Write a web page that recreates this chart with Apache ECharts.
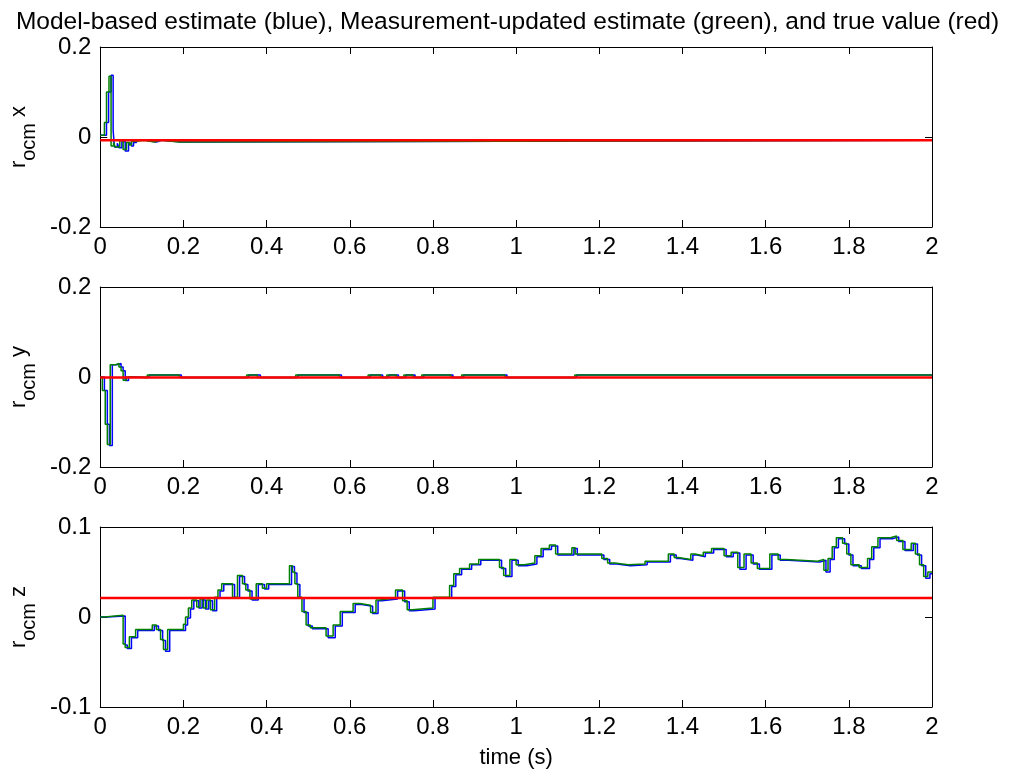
<!DOCTYPE html>
<html>
<head>
<meta charset="utf-8">
<script src="https://cdn.jsdelivr.net/npm/echarts@6/dist/echarts.min.js"></script>
<style>
  html, body { margin: 0; padding: 0; background: #fff; }
  #chart { width: 1015px; height: 780px; }
</style>
</head>
<body>
<div id="chart"></div>
<script>
// ---------- data ----------
const titleText = 'Model-based estimate (blue), Measurement-updated estimate (green), and true value (red)';
const xLabelText = 'time (s)';
const axisNames = ['x', 'y', 'z'];
const timeRange = [0, 2];
const timeTicks = [0, 0.2, 0.4, 0.6, 0.8, 1, 1.2, 1.4, 1.6, 1.8, 2];
const yRanges = [[-0.2, 0.2, 0.2], [-0.2, 0.2, 0.2], [-0.1, 0.1, 0.1]];

// true values (red)
const trueX = -0.007;
const trueY = -0.001;
const trueZ = 0.021;

// r_ocm x : [time, value] (held until next time)
const xGreen = [[0, 0.004], [0.01, 0.032], [0.015, 0.1], [0.021, 0.135], [0.026, -0.02], [0.032, -0.012], [0.036, -0.022],
  [0.047, -0.008], [0.055, -0.028], [0.063, -0.012], [0.07, -0.018], [0.075, -0.01], [0.082, -0.007], [0.105, -0.011],
  [0.13, -0.007], [0.145, -0.011], [0.19, -0.007], [2.0, -0.007]];
const xBlue = [[0, 0.004], [0.015, 0.032], [0.02, 0.1], [0.026, 0.137], [0.031, 0.015], [0.034, -0.022], [0.041, -0.014],
  [0.045, -0.024], [0.052, -0.01], [0.06, -0.031], [0.068, -0.014], [0.075, -0.02], [0.08, -0.012], [0.087, -0.007],
  [0.11, -0.011], [0.135, -0.007], [0.15, -0.011], [0.195, -0.007], [2.0, -0.007]];

// r_ocm y
const yGreen = [[0, 0.0], [0.005, -0.03], [0.012, -0.105], [0.017, -0.15], [0.024, 0.027], [0.035, 0.03], [0.045, 0.022],
  [0.05, 0.014], [0.055, -0.007], [0.063, 0.0], [0.07, -0.001], [0.113, 0.0045], [0.19, -0.001], [0.352, 0.0045],
  [0.378, -0.001], [0.47, 0.0045], [0.575, -0.001], [0.644, 0.0045], [0.674, -0.001], [0.689, 0.0045], [0.712, -0.001],
  [0.73, 0.0045], [0.752, -0.001], [0.773, 0.0045], [0.843, -0.001], [0.869, 0.0045], [0.973, -0.001], [1.141, 0.0045],
  [2.0, 0.0045]];
const yBlue = [[0, 0.0], [0.01, -0.03], [0.017, -0.105], [0.022, -0.152], [0.029, 0.027], [0.04, 0.03], [0.05, 0.022],
  [0.055, 0.014], [0.06, -0.008], [0.068, 0.0], [0.075, -0.001], [0.118, 0.0045], [0.195, -0.001], [0.357, 0.0045],
  [0.385, -0.001], [0.475, 0.0045], [0.58, -0.001], [0.649, 0.0045], [0.679, -0.001], [0.694, 0.0045], [0.717, -0.001],
  [0.735, 0.0045], [0.757, -0.001], [0.778, 0.0045], [0.848, -0.001], [0.874, 0.0045], [0.978, -0.001], [1.146, 0.0045],
  [2.0, 0.0045]];

// r_ocm z
const zGreen = [[0, 0.0], [0.01, 0.002], [0.055, -0.03], [0.06, -0.034], [0.07, -0.022], [0.085, -0.014], [0.125, -0.009],
  [0.135, -0.014], [0.145, -0.025], [0.152, -0.036], [0.162, -0.014], [0.2, -0.008], [0.205, 0.0], [0.212, 0.01],
  [0.22, 0.019], [0.232, 0.011], [0.24, 0.02], [0.248, 0.01], [0.256, 0.019], [0.265, 0.008], [0.275, 0.022],
  [0.283, 0.03], [0.292, 0.037], [0.318, 0.022], [0.33, 0.046], [0.342, 0.037], [0.35, 0.03], [0.36, 0.02],
  [0.375, 0.037], [0.39, 0.032], [0.4, 0.037], [0.455, 0.057], [0.462, 0.05], [0.468, 0.037], [0.475, 0.022],
  [0.485, 0.006], [0.495, -0.009], [0.505, -0.012], [0.543, -0.021], [0.56, -0.009], [0.577, 0.006], [0.608, 0.015],
  [0.624, 0.013], [0.65, 0.005], [0.663, 0.019], [0.672, 0.021], [0.71, 0.03], [0.727, 0.018], [0.738, 0.008],
  [0.75, 0.01], [0.8, 0.022], [0.84, 0.035], [0.85, 0.048], [0.864, 0.054], [0.888, 0.059], [0.91, 0.064],
  [0.96, 0.055], [0.97, 0.046], [0.985, 0.064], [1.0, 0.058], [1.02, 0.06], [1.045, 0.068], [1.06, 0.076],
  [1.08, 0.08], [1.095, 0.07], [1.134, 0.077], [1.142, 0.07], [1.206, 0.065], [1.22, 0.06], [1.237, 0.058],
  [1.27, 0.059], [1.31, 0.062], [1.366, 0.07], [1.38, 0.066], [1.39, 0.064], [1.42, 0.07], [1.43, 0.068],
  [1.45, 0.072], [1.47, 0.076], [1.5, 0.068], [1.517, 0.072], [1.533, 0.055], [1.548, 0.07], [1.565, 0.06],
  [1.58, 0.054], [1.61, 0.07], [1.63, 0.064], [1.65, 0.062], [1.725, 0.064], [1.74, 0.052], [1.75, 0.065],
  [1.76, 0.078], [1.77, 0.088], [1.785, 0.082], [1.795, 0.07], [1.805, 0.058], [1.825, 0.055], [1.845, 0.065],
  [1.855, 0.078], [1.87, 0.088], [1.9, 0.09], [1.915, 0.085], [1.93, 0.075], [1.95, 0.082], [1.96, 0.07],
  [1.97, 0.058], [1.98, 0.045], [1.99, 0.05], [2.0, 0.05]];
const zBlue = [[0, 0.0], [0.015, 0.001], [0.06, -0.031], [0.065, -0.035], [0.075, -0.023], [0.09, -0.015], [0.13, -0.01],
  [0.14, -0.015], [0.15, -0.026], [0.157, -0.038], [0.167, -0.015], [0.205, -0.009], [0.21, -0.001], [0.217, 0.009],
  [0.225, 0.018], [0.237, 0.01], [0.245, 0.019], [0.253, 0.009], [0.261, 0.018], [0.27, 0.007], [0.28, 0.021],
  [0.288, 0.029], [0.297, 0.036], [0.323, 0.021], [0.335, 0.045], [0.347, 0.036], [0.355, 0.029], [0.365, 0.019],
  [0.38, 0.036], [0.395, 0.031], [0.405, 0.036], [0.46, 0.056], [0.467, 0.049], [0.473, 0.036], [0.48, 0.021],
  [0.49, 0.005], [0.5, -0.01], [0.51, -0.013], [0.548, -0.023], [0.565, -0.01], [0.582, 0.005], [0.613, 0.014],
  [0.629, 0.012], [0.655, 0.004], [0.668, 0.018], [0.677, 0.02], [0.715, 0.029], [0.732, 0.017], [0.743, 0.007],
  [0.755, 0.009], [0.805, 0.021], [0.845, 0.034], [0.855, 0.047], [0.869, 0.053], [0.893, 0.058], [0.915, 0.063],
  [0.965, 0.054], [0.975, 0.045], [0.99, 0.063], [1.005, 0.057], [1.025, 0.059], [1.05, 0.067], [1.065, 0.075],
  [1.085, 0.079], [1.1, 0.069], [1.139, 0.076], [1.147, 0.069], [1.211, 0.064], [1.225, 0.059], [1.242, 0.057],
  [1.275, 0.058], [1.315, 0.061], [1.371, 0.069], [1.385, 0.065], [1.395, 0.063], [1.425, 0.069], [1.435, 0.067],
  [1.455, 0.071], [1.475, 0.075], [1.505, 0.067], [1.522, 0.071], [1.538, 0.053], [1.553, 0.069], [1.57, 0.059],
  [1.585, 0.053], [1.615, 0.069], [1.635, 0.063], [1.655, 0.061], [1.73, 0.063], [1.745, 0.05], [1.755, 0.064],
  [1.765, 0.077], [1.775, 0.087], [1.79, 0.081], [1.8, 0.069], [1.81, 0.057], [1.83, 0.054], [1.85, 0.064],
  [1.86, 0.077], [1.875, 0.087], [1.905, 0.089], [1.92, 0.084], [1.935, 0.074], [1.955, 0.081], [1.965, 0.069],
  [1.975, 0.057], [1.985, 0.043], [1.995, 0.048], [2.0, 0.048]];

const blueSets = [xBlue, yBlue, zBlue];
const greenSets = [xGreen, yGreen, zGreen];
const trueVals = [trueX, trueY, trueZ];

// ---------- chart ----------
const FONT = "'Liberation Sans', Arial, Helvetica, sans-serif";
const gridTops = [47, 287, 527];
const gridH = 180;

const grids = gridTops.map(t => ({ left: 96, right: 83, top: t, height: gridH, containLabel: false }));

const axisLineStyle = { show: true, onZero: false, lineStyle: { color: '#000', width: 1 } };
const tickStyle = { show: true, inside: true, length: 7, lineStyle: { color: '#000', width: 1 } };

const xAxes = [];
const yAxes = [];
for (let i = 0; i < 3; i++) {
  xAxes.push({
    type: 'value', gridIndex: i, position: 'bottom', min: timeRange[0], max: timeRange[1], interval: 0.2,
    axisLine: axisLineStyle, axisTick: tickStyle, splitLine: { show: false },
    axisLabel: { color: '#000', fontSize: 24, fontFamily: FONT, margin: 8, formatter: v => String(+v.toFixed(1)) },
    name: i === 2 ? xLabelText : '', nameLocation: 'middle', nameGap: 40,
    nameTextStyle: { color: '#000', fontSize: 22, fontFamily: FONT }
  });
  yAxes.push({
    type: 'value', gridIndex: i, position: 'left', min: yRanges[i][0], max: yRanges[i][1], interval: yRanges[i][2],
    axisLine: axisLineStyle, axisTick: tickStyle, splitLine: { show: false },
    axisLabel: { color: '#000', fontSize: 24, fontFamily: FONT, margin: 9, formatter: v => String(+v.toFixed(1)) },
    name: '{r|r}{s|ocm}{r| ' + axisNames[i] + '}', nameLocation: 'middle', nameRotate: 90, nameGap: 50,
    nameTextStyle: {
      rich: {
        r: { fontSize: 22, fontFamily: FONT, color: '#000', verticalAlign: 'top', lineHeight: 26 },
        s: { fontSize: 20, fontFamily: FONT, color: '#000', verticalAlign: 'top', padding: [11, 0, 0, 0] }
      }
    }
  });
}
for (let i = 0; i < 3; i++) {
  xAxes.push({
    type: 'value', gridIndex: i, position: 'top', min: timeRange[0], max: timeRange[1], interval: 0.2,
    axisLine: axisLineStyle, axisTick: tickStyle, splitLine: { show: false }, axisLabel: { show: false }
  });
  yAxes.push({
    type: 'value', gridIndex: i, position: 'right', min: yRanges[i][0], max: yRanges[i][1], interval: yRanges[i][2],
    axisLine: axisLineStyle, axisTick: tickStyle, splitLine: { show: false }, axisLabel: { show: false }
  });
}

const series = [];
for (let i = 0; i < 3; i++) {
  series.push({
    type: 'line', xAxisIndex: i, yAxisIndex: i, data: blueSets[i], step: 'end', showSymbol: false,
    lineStyle: { color: '#0000ff', width: 1.5 }, z: 2
  });
  series.push({
    type: 'line', xAxisIndex: i, yAxisIndex: i, data: greenSets[i], step: 'end', showSymbol: false,
    lineStyle: { color: '#008000', width: 1.5 }, z: 3
  });
  series.push({
    type: 'line', xAxisIndex: i, yAxisIndex: i, data: [[timeRange[0], trueVals[i]], [timeRange[1], trueVals[i]]],
    showSymbol: false, lineStyle: { color: '#ff0000', width: 2.5 }, z: 4
  });
}

const chart = echarts.init(document.getElementById('chart'), null, { renderer: 'canvas' });
chart.setOption({
  animation: false,
  backgroundColor: '#fff',
  title: {
    text: titleText, left: 'center', top: 5,
    textStyle: { color: '#000', fontSize: 24.5, fontWeight: 'normal', fontFamily: FONT }
  },
  grid: grids,
  xAxis: xAxes,
  yAxis: yAxes,
  series: series
});
</script>
</body>
</html>
